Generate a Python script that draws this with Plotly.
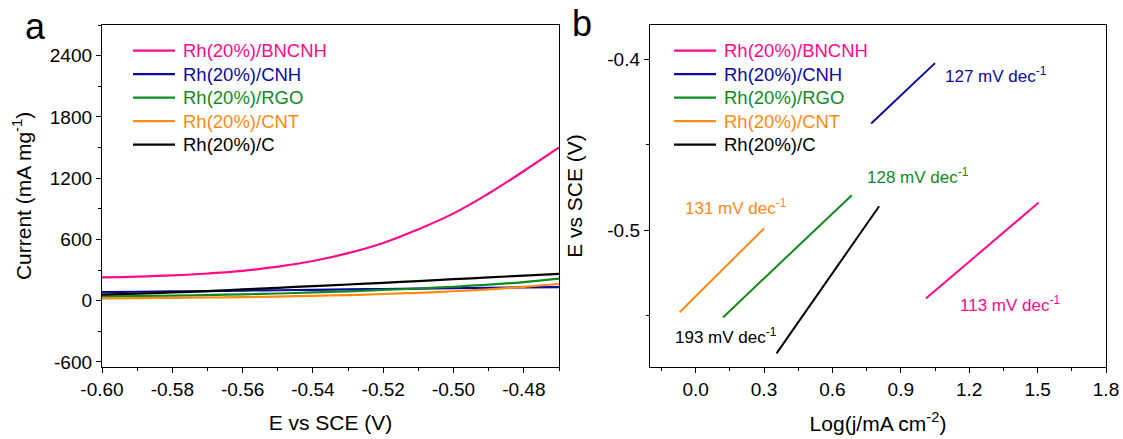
import plotly.graph_objects as go

# ---------------- data: panel a (LSV curves) ----------------
E_a = [-0.60, -0.59, -0.58, -0.57, -0.56, -0.55, -0.54, -0.53, -0.52, -0.51, -0.50, -0.49, -0.48, -0.47]
cur_bncnh = [228, 236, 248, 266, 292, 333, 388, 465, 565, 700, 855, 1050, 1270, 1500]
cur_cnh = [84, 87, 90, 94, 98, 102, 106, 110, 114, 118, 122, 126, 130, 133]
cur_rgo = [42, 45, 50, 55, 62, 70, 80, 91, 105, 119, 136, 156, 182, 215]
cur_cnt = [22, 25, 28, 31, 35, 40, 47, 55, 65, 77, 92, 111, 135, 163]
cur_c = [58, 68, 80, 94, 110, 126, 142, 158, 175, 192, 210, 228, 245, 262]

# ---------------- data: panel b (Tafel fits) ----------------
logj_bncnh = [1.01, 1.505]
E_bncnh = [-0.540, -0.4838]
logj_cnh = [0.77, 1.05]
E_cnh = [-0.4376, -0.4023]
logj_rgo = [0.12, 0.685]
E_rgo = [-0.551, -0.4795]
logj_cnt = [-0.07, 0.30]
E_cnt = [-0.548, -0.499]
logj_c = [0.355, 0.805]
E_c = [-0.572, -0.486]

names = ["Rh(20%)/BNCNH", "Rh(20%)/CNH", "Rh(20%)/RGO", "Rh(20%)/CNT", "Rh(20%)/C"]
colors = ["#FF0A87", "#0A0AA0", "#118A1E", "#FF8A14", "#000000"]
slopes = ["113 mV dec<sup>-1</sup>", "127 mV dec<sup>-1</sup>", "128 mV dec<sup>-1</sup>",
          "131 mV dec<sup>-1</sup>", "193 mV dec<sup>-1</sup>"]

xa_ticks = [-0.60, -0.58, -0.56, -0.54, -0.52, -0.50, -0.48]
xa_text = ["-0.60", "-0.58", "-0.56", "-0.54", "-0.52", "-0.50", "-0.48"]
ya_ticks = [-600, 0, 600, 1200, 1800, 2400]
ya_text = ["-600", "0", "600", "1200", "1800", "2400"]
xb_ticks = [0.0, 0.3, 0.6, 0.9, 1.2, 1.5, 1.8]
xb_text = ["0.0", "0.3", "0.6", "0.9", "1.2", "1.5", "1.8"]
yb_ticks = [-0.5, -0.4]
yb_text = ["-0.5", "-0.4"]

FONT = "Liberation Sans, Arial, sans-serif"
W, H = 1123, 439

fig = go.Figure()

a_series = [cur_bncnh, cur_cnh, cur_rgo, cur_cnt, cur_c]
for nm, col, ys in zip(names, colors, a_series):
    fig.add_trace(go.Scatter(
        x=E_a, y=ys, mode="lines", line=dict(color=col, width=2.2, shape="spline", smoothing=1.2),
        name=nm, showlegend=False, xaxis="x", yaxis="y"))

b_x = [logj_bncnh, logj_cnh, logj_rgo, logj_cnt, logj_c]
b_y = [E_bncnh, E_cnh, E_rgo, E_cnt, E_c]
for nm, col, xs, ys in zip(names, colors, b_x, b_y):
    fig.add_trace(go.Scatter(
        x=xs, y=ys, mode="lines", line=dict(color=col, width=2),
        name=nm, showlegend=False, xaxis="x2", yaxis="y2"))

axis_common = dict(
    showline=True, linecolor="black", linewidth=1.3, mirror=True,
    ticks="outside", ticklen=5, tickwidth=1.3, tickcolor="black",
    showgrid=False, zeroline=False, automargin=False,
    tickfont=dict(family=FONT, size=19, color="black"),
)

yd = [1 - 367 / H, 1 - 25 / H]

fig.update_layout(
    width=W, height=H,
    margin=dict(l=0, r=0, t=0, b=0, autoexpand=False),
    paper_bgcolor="white", plot_bgcolor="white",
    font=dict(family=FONT, color="black"),
    showlegend=False,
    xaxis=dict(domain=[102 / W, 559 / W], range=[-0.60, -0.47],
               tickmode="array", tickvals=xa_ticks, ticktext=xa_text,
               minor=dict(tickmode="linear", tick0=-0.60, dtick=0.01, ticks="outside",
                          ticklen=3, tickwidth=1.3, tickcolor="black"),
               title=dict(text="E vs SCE (V)", font=dict(family=FONT, size=21), standoff=16),
               anchor="y", **axis_common),
    yaxis=dict(domain=yd, range=[-650, 2700],
               tickmode="array", tickvals=ya_ticks, ticktext=ya_text,
               minor=dict(tickmode="linear", tick0=-600, dtick=300, ticks="outside",
                          ticklen=3, tickwidth=1.3, tickcolor="black"),
               title=dict(text="Current (mA mg<sup>-1</sup>)", font=dict(family=FONT, size=21), standoff=12),
               anchor="x", **axis_common),
    xaxis2=dict(domain=[650 / W, 1106 / W], range=[-0.2, 1.8],
                tickmode="array", tickvals=xb_ticks, ticktext=xb_text,
                minor=dict(tickmode="linear", tick0=-0.15, dtick=0.15, ticks="outside",
                           ticklen=3, tickwidth=1.3, tickcolor="black"),
                title=dict(text="Log(j/mA cm<sup>-2</sup>)", font=dict(family=FONT, size=21), standoff=17),
                anchor="y2", **axis_common),
    yaxis2=dict(domain=yd, range=[-0.58, -0.38],
                tickmode="array", tickvals=yb_ticks, ticktext=yb_text,
                minor=dict(tickmode="linear", tick0=-0.55, dtick=0.05, ticks="outside",
                           ticklen=3, tickwidth=1.3, tickcolor="black"),
                title=dict(text="E vs SCE (V)", font=dict(family=FONT, size=21), standoff=18),
                anchor="x2", **axis_common),
)

# legends (drawn as key lines + coloured labels, one per panel)
for x0, x1, xt in [(133, 175, 181), (674, 716, 722)]:
    for i, (nm, col) in enumerate(zip(names, colors)):
        yy = 1 - (50.7 + i * 23.5) / H
        fig.add_shape(type="line", xref="paper", yref="paper",
                      x0=x0 / W, x1=x1 / W, y0=yy, y1=yy,
                      line=dict(color=col, width=2.2))
        fig.add_annotation(x=xt / W, y=yy, xref="paper", yref="paper", text=nm,
                           showarrow=False, xanchor="left", yanchor="middle",
                           font=dict(family=FONT, size=18.5, color=col))

# slope annotations (panel b)
ann_pos = [(1.150, -0.543), (1.083, -0.4094), (0.742, -0.4684), (-0.056, -0.4865), (-0.10, -0.562)]
for txt, col, (ax_, ay_) in zip(slopes, colors, ann_pos):
    fig.add_annotation(x=ax_, y=ay_, xref="x2", yref="y2", text=txt, showarrow=False,
                       xanchor="left", yanchor="middle",
                       font=dict(family=FONT, size=17, color=col))

# panel letters
fig.add_annotation(x=35 / W, y=1 - 26 / H, xref="paper", yref="paper", text="a",
                   showarrow=False, xanchor="center", yanchor="middle",
                   font=dict(family=FONT, size=36, color="black"))
fig.add_annotation(x=582 / W, y=1 - 24 / H, xref="paper", yref="paper", text="b",
                   showarrow=False, xanchor="center", yanchor="middle",
                   font=dict(family=FONT, size=36, color="black"))

fig.write_html("out.html", config={"displayModeBar": False},
               post_script="document.body.style.margin='0px';document.body.style.overflow='hidden';")
